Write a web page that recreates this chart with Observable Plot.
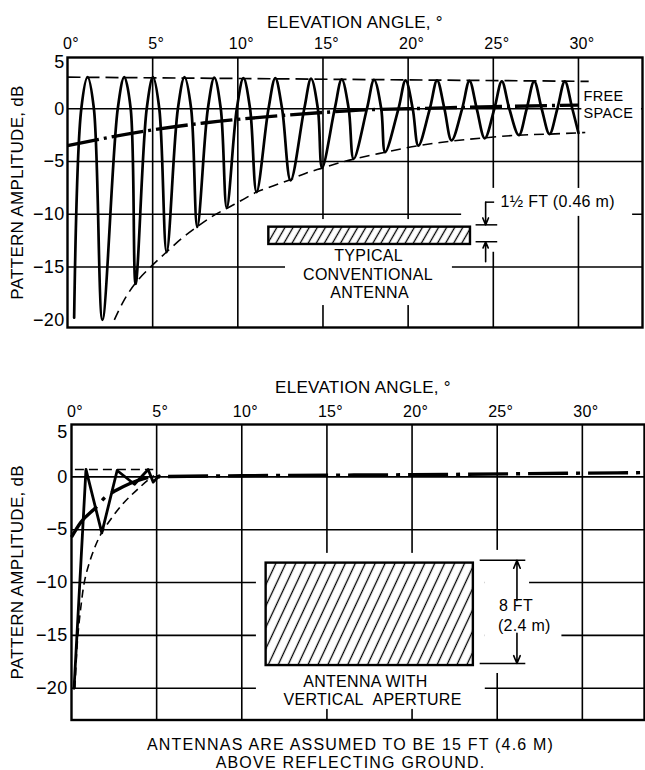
<!DOCTYPE html>
<html><head><meta charset="utf-8">
<script src="https://cdn.jsdelivr.net/npm/d3@7"></script>
<script src="https://cdn.jsdelivr.net/npm/@observablehq/plot@0.6"></script>
<style>
body{margin:0;background:#fff;width:645px;height:770px;overflow:hidden;font-family:"Liberation Sans",Arial,sans-serif;color:#000}
svg{display:block}
#caption{font-size:16px;letter-spacing:1.2px;line-height:18px;text-align:center;padding-top:11px;padding-left:56px;width:589px}
</style></head><body>
<div id="top"></div><div id="bottom"></div>
<div id="caption">ANTENNAS ARE ASSUMED TO BE 15 FT (4.6 M)<br>ABOVE REFLECTING GROUND.</div>
<script>
// ---------- shared axis values ----------
const xTickDeg = [0, 5, 10, 15, 20, 25, 30];
const gridDeg = [5, 10, 15, 20, 25, 30];
const yTickDb = [0, -5, -10, -15, -20];
const yTopTick = [5];
const topGridDb = [0, -5, -10, -15];
const bottomGridDb = [0, -5, -10, -15, -20];
const xTitle = "ELEVATION ANGLE, °";
const yTitle = "PATTERN AMPLITUDE, dB";

// ---------- top panel: typical conventional antenna ----------
const topPeakDeg = [1.18, 3.33, 5.02, 6.87, 8.62, 10.33, 12.2, 14.3, 16.1, 18.0, 19.85, 21.7, 23.6, 25.5, 27.4, 29.2];
const topPeakDb  = [3.0, 3.0, 3.0, 3.0, 2.95, 2.9, 2.9, 2.85, 2.8, 2.75, 2.7, 2.7, 2.65, 2.6, 2.6, 2.6];
const topHalfWidthDeg = [0.37, 0.38, 0.37, 0.39, 0.38, 0.39, 0.40, 0.40, 0.41, 0.42, 0.42, 0.43, 0.43, 0.44, 0.44, 0.44];
const topNullDeg = [0.39, 2.05, 4.0, 5.82, 7.62, 9.35, 11.1, 13.1, 14.95, 16.8, 18.65, 20.6, 22.55, 24.5, 26.5, 28.3, 30.0];
const topNullDb  = [-19.8, -20.0, -16.6, -13.6, -11.2, -9.4, -7.9, -6.8, -5.6, -4.75, -4.1, -3.5, -3.0, -2.8, -2.5, -2.4, -2.3];

const topFreeDeg = [0, 2, 5, 8, 12.5, 15, 17.5, 20, 25, 30];
const topFreeDb  = [-3.5, -2.85, -2.0, -1.35, -0.65, -0.35, -0.1, 0, 0.2, 0.35];

const topUpperDeg = [0, 30.6];
const topUpperDb  = [3.0, 2.6];

const topEnvDeg = [2.75, 3.3, 4.0, 5.0, 5.8, 6.7, 7.6, 8.5, 9.4, 10.2, 11.1, 12.1, 13.1, 14.0, 15.0, 16.0, 17.0, 18.7, 20.6, 22.6, 24.5, 26.5, 28.3, 30.4];
const topEnvDb  = [-20.0, -18.2, -16.5, -14.8, -13.6, -12.3, -11.2, -10.2, -9.4, -8.7, -7.9, -7.3, -6.7, -6.1, -5.6, -5.1, -4.7, -4.1, -3.5, -3.05, -2.75, -2.5, -2.4, -2.25];

const topBox = [{x1: 11.82, x2: 23.66, y1: -11.22, y2: -12.86}];
const topBoxText = ["TYPICAL", "CONVENTIONAL", "ANTENNA"];
const topBoxTextDeg = [17.68, 17.64, 17.74];
const topBoxTextDb = [-13.98, -15.7, -17.42];
const topDimText = ["1½ FT (0.46 m)"];
const topDimTextDeg = [25.43];
const topDimTextDb = [-8.85];
const topDimLines = [
  {x1: 23.96, x2: 25.23, y1: -11.0, y2: -11.0},
  {x1: 23.96, x2: 25.23, y1: -12.6, y2: -12.6},
  {x1: 24.55, x2: 25.05, y1: -8.85, y2: -8.85}
];
const topDimArrows = [
  {x1: 24.55, y1: -8.85, x2: 24.55, y2: -11.0},
  {x1: 24.55, y1: -14.5, x2: 24.55, y2: -12.6}
];
const topMasks = [
  {x1: 23.14, x2: 33.18, y1: -7.55, y2: -10.2},
  {x1: 23.96, x2: 25.37, y1: -7.55, y2: -13.6},
  {x1: 11.39, x2: 24.02, y1: -10.5, y2: -13.4},
  {x1: 12.8, x2: 22.6, y1: -13.15, y2: -18.65},
  {x1: 30.2, x2: 33.7, y1: 1.93, y2: -1.2}
];
const freeSpaceText = ["FREE", "SPACE"];
const freeSpaceDeg = [30.3, 30.3];
const freeSpaceDb = [1.2, -0.4];

// ---------- bottom panel: antenna with vertical aperture ----------
const botPatternDeg = [0.15, 0.85, 1.78, 2.68, 3.7, 4.5, 4.8, 5.15];
const botPatternDb  = [-20.0, 0.7, -5.3, 0.6, -0.7, 0.7, -0.5, 0.1];
const botFreeDeg = [0, 0.55, 1.43, 2.0, 2.6, 3.4, 4.2, 4.8, 10, 20, 30, 33.65];
const botFreeDb  = [-5.7, -4.3, -2.9, -1.9, -1.3, -0.65, -0.2, 0, 0.1, 0.2, 0.35, 0.4];
const botUpperDeg = [0.2, 4.8];
const botUpperDb  = [0.7, 0.7];
const botEnvDeg = [0.2, 0.35, 0.55, 0.8, 1.2, 1.7, 2.4, 3.1, 3.8, 4.5, 4.85];
const botEnvDb  = [-20, -15.5, -12.3, -9.6, -7.4, -5.5, -3.8, -2.4, -1.3, -0.3, 0.1];

const botBox = [{x1: 11.43, x2: 23.6, y1: -8.16, y2: -17.85}];
const botBoxText = ["ANTENNA WITH", "VERTICAL\u00a0 APERTURE"];
const botBoxTextDeg = [17.26, 17.68];
const botBoxTextDb = [-19.38, -21.12];
const botDimText = ["8 FT", "(2.4 m)"];
const botDimTextDeg = [26.1, 26.59];
const botDimTextDb = [-12.2, -14.1];
const botDimLines = [
  {x1: 23.97, x2: 26.65, y1: -7.9, y2: -7.9},
  {x1: 23.97, x2: 26.65, y1: -17.66, y2: -17.66}
];
const botDimArrows = [
  {x1: 26.16, y1: -11.7, x2: 26.16, y2: -7.9},
  {x1: 26.16, y1: -14.8, x2: 26.16, y2: -17.66}
];
const botMasks = [
  {x1: 10.86, x2: 24.3, y1: -7.24, y2: -22.0},
  {x1: 24.3, x2: 26.9, y1: -6.96, y2: -18.6},
  {x1: 24.3, x2: 28.8, y1: -11.2, y2: -15.5}
];

// ---------- helpers ----------
const rows = (xs, ys) => xs.map((x, i) => ({deg: x, db: ys[i]}));
const labelRows = (t, xs, ys) => t.map((s, i) => ({t: s, deg: xs[i], db: ys[i]}));
function lobes(nullDeg, nullDb, peakDeg, peakDb, hw) {
  const pts = [{deg: nullDeg[0], db: nullDb[0]}];
  peakDeg.forEach((p, i) => {
    pts.push({deg: p - hw[i], db: 0});
    pts.push({deg: p, db: peakDb[i]});
    pts.push({deg: p + hw[i], db: 0});
    pts.push({deg: nullDeg[i + 1], db: nullDb[i + 1]});
  });
  return pts;
}
const fmtDb = d => d < 0 ? "\u2212" + Math.abs(d) : String(d);
const plotStyle = {fontFamily: "'Liberation Sans', Arial, sans-serif", background: "white", color: "black", letterSpacing: "0.3px", overflow: "visible"};

function addHatch(svg, id, size, angle, sw) {
  const defs = d3.select(svg).insert("defs", ":first-child");
  const p = defs.append("pattern").attr("id", id).attr("patternUnits", "userSpaceOnUse")
    .attr("width", size).attr("height", size).attr("patternTransform", `rotate(${angle})`);
  p.append("rect").attr("width", size).attr("height", size).attr("fill", "white");
  p.append("line").attr("x1", size / 2).attr("x2", size / 2).attr("y1", -1).attr("y2", size + 1)
    .attr("stroke", "black").attr("stroke-width", sw);
}

function axisMarks(dxY, titleDy, titleDx, tickDy, labelDx, fiveDy) {
  return [
    Plot.text([xTitle], {text: d => d, frameAnchor: "top", dy: titleDy, dx: titleDx, fontSize: 17, lineAnchor: "middle", textAnchor: "middle"}),
    Plot.text(xTickDeg, {x: d => d, text: d => d + "°", frameAnchor: "top", dy: tickDy, dx: 3.5, fontSize: 16, lineAnchor: "middle", textAnchor: "middle"}),
    Plot.text(yTickDb, {y: d => d, text: fmtDb, frameAnchor: "left", textAnchor: "end", dx: dxY, fontSize: 18, lineAnchor: "middle"}),
    Plot.text(yTopTick, {y: d => d, text: fmtDb, frameAnchor: "left", textAnchor: "end", dx: dxY, dy: fiveDy, fontSize: 18, lineAnchor: "middle"}),
    Plot.text([yTitle], {text: d => d, frameAnchor: "left", textAnchor: "middle", dx: labelDx, rotate: -90, fontSize: 17, lineAnchor: "middle"})
  ];
}

// ---------- top plot ----------
const topSvg = Plot.plot({
  width: 645, height: 335,
  marginLeft: 67, marginRight: 3, marginTop: 57, marginBottom: 8,
  x: {domain: [0, 33.76], axis: null},
  y: {domain: [-20.73, 4.86], axis: null},
  style: plotStyle,
  marks: [
    Plot.ruleX(gridDeg, {strokeWidth: 1.6}),
    Plot.ruleY(topGridDb, {strokeWidth: 1.6}),
    Plot.rect(topMasks, {x1: "x1", x2: "x2", y1: "y1", y2: "y2", fill: "white"}),
    Plot.frame({strokeWidth: 2.4}),
    Plot.line(rows(topUpperDeg, topUpperDb), {x: "deg", y: "db", strokeWidth: 1.7, strokeDasharray: "13,6", strokeLinecap: "butt"}),
    Plot.line(rows(topEnvDeg, topEnvDb), {x: "deg", y: "db", curve: "catmull-rom", strokeWidth: 1.6, strokeDasharray: "10,6", strokeLinecap: "butt"}),
    Plot.line(lobes(topNullDeg, topNullDb, topPeakDeg, topPeakDb, topHalfWidthDeg), {x: "deg", y: "db", curve: "catmull-rom", strokeWidth: 2.7}),
    Plot.line(rows(topFreeDeg, topFreeDb), {x: "deg", y: "db", curve: "monotone-x", strokeWidth: 3.4, strokeDasharray: "32,5,3,5", strokeLinecap: "butt"}),
    Plot.rect(topBox, {x1: "x1", x2: "x2", y1: "y1", y2: "y2", fill: "url(#hatchTop)", stroke: "black", strokeWidth: 2.4}),
    Plot.link(topDimLines, {x1: "x1", x2: "x2", y1: "y1", y2: "y2", strokeWidth: 1.5}),
    Plot.arrow(topDimArrows, {x1: "x1", y1: "y1", x2: "x2", y2: "y2", strokeWidth: 1.6, headLength: 7, headAngle: 45}),
    Plot.text(labelRows(topBoxText, topBoxTextDeg, topBoxTextDb), {x: "deg", y: "db", text: "t", fontSize: 16, lineAnchor: "middle"}),
    Plot.text(labelRows(topDimText, topDimTextDeg, topDimTextDb), {x: "deg", y: "db", text: "t", fontSize: 16, textAnchor: "start", lineAnchor: "middle"}),
    Plot.text(labelRows(freeSpaceText, freeSpaceDeg, freeSpaceDb), {x: "deg", y: "db", text: "t", fontSize: 14.5, textAnchor: "start", lineAnchor: "middle"}),
    ...axisMarks(-3, -35.3, 0, -13.5, -50, 6)
  ]
});
addHatch(topSvg, "hatchTop", 7, 30, 1.3);
document.getElementById("top").appendChild(topSvg);

// ---------- bottom plot ----------
const botSvg = Plot.plot({
  width: 645, height: 390,
  marginLeft: 71, marginRight: 1, marginTop: 89, marginBottom: 5.5,
  x: {domain: [0, 33.65], axis: null},
  y: {domain: [-23.0, 4.95], axis: null},
  style: plotStyle,
  marks: [
    Plot.ruleX(gridDeg, {strokeWidth: 1.6}),
    Plot.ruleY(bottomGridDb, {strokeWidth: 1.6}),
    Plot.rect(botMasks, {x1: "x1", x2: "x2", y1: "y1", y2: "y2", fill: "white"}),
    Plot.frame({strokeWidth: 2.4}),
    Plot.line(rows(botUpperDeg, botUpperDb), {x: "deg", y: "db", strokeWidth: 1.6, strokeDasharray: "9,5", strokeLinecap: "butt"}),
    Plot.line(rows(botEnvDeg, botEnvDb), {x: "deg", y: "db", curve: "catmull-rom", strokeWidth: 1.6, strokeDasharray: "8,5", strokeLinecap: "butt"}),
    Plot.line(rows(botPatternDeg, botPatternDb), {x: "deg", y: "db", strokeWidth: 2.8}),
    Plot.line(rows(botFreeDeg, botFreeDb), {x: "deg", y: "db", curve: "monotone-x", strokeWidth: 3.4, strokeDasharray: "40,8,4,8", strokeLinecap: "butt"}),
    Plot.rect(botBox, {x1: "x1", x2: "x2", y1: "y1", y2: "y2", fill: "url(#hatchBottom)", stroke: "black", strokeWidth: 2.4}),
    Plot.link(botDimLines, {x1: "x1", x2: "x2", y1: "y1", y2: "y2", strokeWidth: 1.5}),
    Plot.arrow(botDimArrows, {x1: "x1", y1: "y1", x2: "x2", y2: "y2", strokeWidth: 1.6, headLength: 8, headAngle: 45}),
    Plot.text(labelRows(botBoxText, botBoxTextDeg, botBoxTextDb), {x: "deg", y: "db", text: "t", fontSize: 16, lineAnchor: "middle"}),
    Plot.text(labelRows(botDimText, botDimTextDeg, botDimTextDb), {x: "deg", y: "db", text: "t", fontSize: 16, lineAnchor: "middle"}),
    ...axisMarks(-4, -37, 5, -12.5, -54, 8)
  ]
});
addHatch(botSvg, "hatchBottom", 9, 25, 1.3);
document.getElementById("bottom").appendChild(botSvg);
</script></body></html>
